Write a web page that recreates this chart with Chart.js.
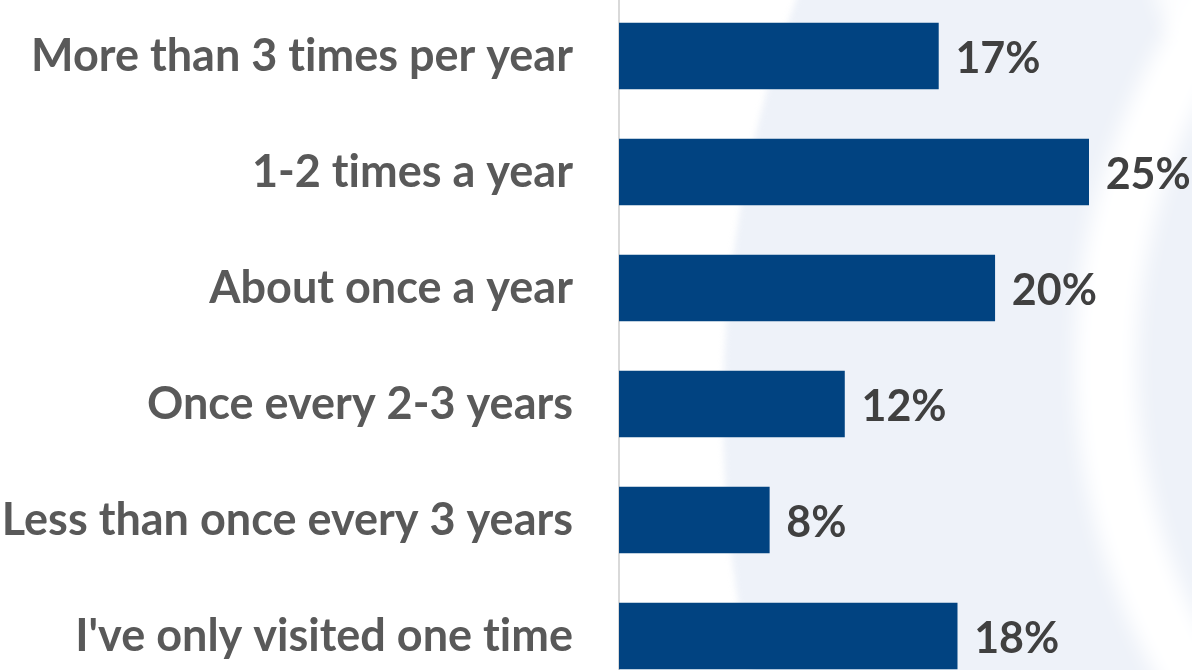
<!DOCTYPE html>
<html>
<head>
<meta charset="utf-8">
<script src="https://cdn.jsdelivr.net/npm/chart.js@4"></script>
<style>
  html, body { margin: 0; padding: 0; background: #ffffff; overflow: hidden; }
  #wrap { position: absolute; left: 0; top: -2px; width: 1192px; height: 696px; }
</style>
</head>
<body>
<div id="wrap"><canvas id="chart" width="1192" height="696"></canvas></div>
<script>
// Survey: how often respondents visit
const categories = [
  "More than 3 times per year",
  "1-2 times a year",
  "About once a year",
  "Once every 2-3 years",
  "Less than once every 3 years",
  "I've only visited one time"
];
const shares = [17, 25, 20, 12, 8, 18];
const valueLabels = ["17%", "25%", "20%", "12%", "8%", "18%"];

const FONT = "Lato, 'Open Sans', sans-serif";

// Soft pale-blue swoosh behind the plot
const backdrop = {
  id: "backdrop",
  beforeDraw(chart) {
    const { ctx, width, height } = chart;
    // plain glyphs, no "ti" ligatures
    ctx.textRendering = "optimizeSpeed";
    ctx.letterSpacing = "0.01px";
    ctx.save();
    ctx.fillStyle = "#ffffff";
    ctx.fillRect(0, 0, width, height);
    ctx.beginPath();
    ctx.rect(0, 0, width, height);
    ctx.clip();

    ctx.filter = "blur(3px)";
    ctx.fillStyle = "#eef2f9";
    ctx.beginPath();
    ctx.arc(1922, 414, 1199, 0, Math.PI * 2);
    ctx.fill();

    ctx.filter = "blur(10px)";
    ctx.strokeStyle = "#ffffff";
    ctx.lineWidth = 62;
    ctx.beginPath();
    ctx.arc(1718, 365, 612, 0, Math.PI * 2);
    ctx.stroke();
    ctx.fillStyle = "rgba(255,255,255,0.85)";
    ctx.beginPath();
    ctx.arc(1300, -40, 150, 0, Math.PI * 2);
    ctx.fill();
    ctx.restore();
  }
};

// Percent labels just past the end of each bar
const barValues = {
  id: "barValues",
  afterDatasetsDraw(chart) {
    const { ctx } = chart;
    const meta = chart.getDatasetMeta(0);
    ctx.save();
    ctx.font = "bold 43px " + FONT;
    ctx.fillStyle = "#404040";
    ctx.textAlign = "left";
    ctx.textBaseline = "middle";
    meta.data.forEach((bar, i) => {
      ctx.fillText(valueLabels[i], bar.x + 17, bar.y + 3);
    });
    ctx.restore();
  }
};

new Chart(document.getElementById("chart"), {
  type: "bar",
  data: {
    labels: categories,
    datasets: [{
      data: shares,
      backgroundColor: "#014381",
      borderWidth: 0,
      barThickness: 66
    }]
  },
  options: {
    indexAxis: "y",
    responsive: false,
    animation: false,
    layout: { padding: 0 },
    plugins: { legend: { display: false }, tooltip: { enabled: false } },
    scales: {
      x: { display: false, min: 0, max: 30.5 },
      y: {
        afterFit(scale) {
          scale.width = 619;
          scale.paddingTop = 0;
          scale.paddingBottom = 0;
        },
        grid: { display: false, drawTicks: false },
        border: { display: true, color: "#d9d9d9", width: 2 },
        ticks: {
          color: "#595959",
          padding: 46,
          font: { family: FONT, size: 45, weight: "bold" }
        }
      }
    }
  },
  plugins: [backdrop, barValues]
});
</script>
</body>
</html>
